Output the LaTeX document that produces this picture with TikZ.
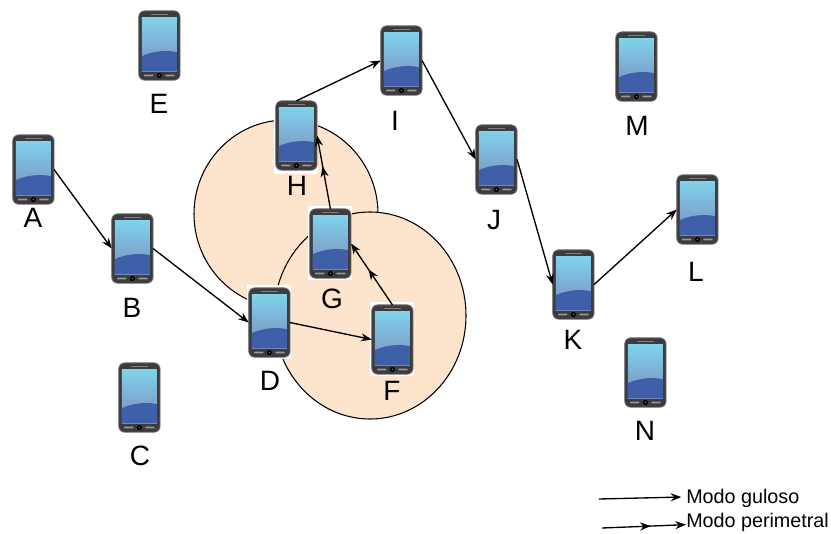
\documentclass[tikz,border=0pt]{standalone}
\usepackage{fontspec}
\setmainfont{Liberation Sans}
\usetikzlibrary{arrows.meta,decorations.markings}
\definecolor{halo}{HTML}{FCE4CD}
\definecolor{bodydark}{HTML}{3C3C3E}
\definecolor{bodyedge}{HTML}{6E6E70}
\definecolor{scrtop}{HTML}{7FD2EA}
\definecolor{scrmid}{HTML}{7A94C6}
\definecolor{scrbot}{HTML}{7C8CBE}
\definecolor{scrblue}{HTML}{3F5FA9}
\tikzset{
  phone/.style={rectangle,inner sep=0pt,outer sep=0pt,minimum width=31pt,minimum height=52pt,
    xshift=.3pt,yshift=-.4pt,
    rounded corners=4.5pt,fill=bodydark,draw=bodyedge,line width=.6pt,
    path picture={
      \begin{scope}[shift={(path picture bounding box.center)},x=1pt,y=1pt]
        \shade[top color=scrtop,middle color=scrmid,bottom color=scrbot,sharp corners]
          (-13.1pt,20.75pt) rectangle (13.1pt,-19.25pt);
        \fill[scrblue,sharp corners] (-13.1pt,-19.25pt) -- (-13.1pt,-8pt)
          .. controls (-6pt,-4.5pt) and (5pt,-3pt) .. (13.1pt,-5pt) -- (13.1pt,-19.25pt) -- cycle;
        \fill[gray,sharp corners] (-6.5pt,23.5pt) rectangle (6.5pt,22.7pt);
        \fill[gray!80,rounded corners=.5pt] (-11.5pt,-23.2pt) rectangle (-4.5pt,-21.8pt);
        \fill[gray!80,rounded corners=.5pt] (4.5pt,-23.2pt) rectangle (11.5pt,-21.8pt);
        \fill[black] (0pt,-22.5pt) circle (1.9pt);
        \fill[gray] (0pt,-22.5pt) circle (.6pt);
      \end{scope}}},
  backing/.style={rectangle,fill=white,inner sep=0pt,minimum width=33pt,minimum height=55pt},
  zone/.style={draw=black,fill=halo,line width=.8pt},
  lbl/.style={font=\fontsize{21}{21}\selectfont,inner sep=0pt},
  legendtext/.style={font=\fontsize{14.8}{15}\selectfont,inner sep=0pt,anchor=west},
  link/.style={draw=black,line width=1pt,-{Stealth[length=8pt,width=6pt]}},
  perim/.style={link,postaction={decorate},decoration={markings,
    mark=at position .58 with {\arrow{Stealth[length=8pt,width=6pt]}}}}
}
\begin{document}
\begin{tikzpicture}[x=.75pt,y=-.75pt]
\useasboundingbox (0,0) rectangle (831,534);
\path[zone] (286,214) ellipse [x radius=92,y radius=94];
\path[zone] (370,315.5) ellipse [x radius=96,y radius=103.5];
\node[backing] (Dback) at (269,322) {};
\node[backing] (Fback) at (392,339) {};
\node[backing] (Gback) at (330,243) {};
\node[backing] (Hback) at (296,137) {};
\node[phone] (A) at (33,169) {};
\node[phone] (B) at (132,248) {};
\node[phone] (C) at (139,397) {};
\node[phone] (D) at (269,322) {};
\node[phone] (E) at (159,45) {};
\node[phone] (F) at (392,339) {};
\node[phone] (G) at (330,243) {};
\node[phone] (H) at (296,135) {};
\node[phone] (I) at (401,60) {};
\node[phone] (J) at (496,159) {};
\node[phone] (K) at (573,284) {};
\node[phone] (L) at (697,209) {};
\node[phone] (M) at (636,66) {};
\node[phone] (N) at (645,372) {};
\node[lbl] (la) at (33,218) {A};
\node[lbl] (lb) at (132,308) {B};
\node[lbl] (lc) at (140,456) {C};
\node[lbl] (ld) at (270,381) {D};
\node[lbl] (le) at (159,104) {E};
\node[lbl] (lf) at (392,391) {F};
\node[lbl] (lg) at (332,299) {G};
\node[lbl] (lh) at (297,186) {H};
\node[lbl] (li) at (395,121) {I};
\node[lbl] (lj) at (494,220) {J};
\node[lbl] (lk) at (573,340) {K};
\node[lbl] (ll) at (696,272) {L};
\node[lbl] (lm) at (637,126) {M};
\node[lbl] (ln) at (645,431) {N};
\path[link] (A.east) -- (B.west);
\path[link] (B.east) -- (D.west);
\path[link] (D.east) -- (F.west);
\path[perim] (F.north) -- (G.east);
\path[perim] (G.north) -- (H.east);
\path[link] (H.north) -- (I.west);
\path[link] (I.east) -- (J.west);
\path[link] (J.east) -- (K.west);
\path[link] (K.east) -- (L.west);
\node[legendtext] (greedy) at (686,498) {Modo guloso};
\node[legendtext] (perimeter) at (686,522) {Modo perimetral};
\coordinate (gstart) at (599,499);
\coordinate (pstart) at (602,528);
\path[link,shorten >=3.5pt] (gstart) -- ([yshift=.8pt]greedy.west);
\path[perim] (pstart) -- ([yshift=-2pt]perimeter.west);
\end{tikzpicture}
\end{document}
